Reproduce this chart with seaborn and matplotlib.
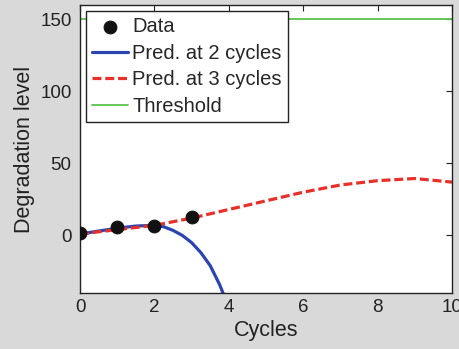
import matplotlib
matplotlib.use("Agg")
import matplotlib.pyplot as plt
import seaborn as sns
import pandas as pd
import numpy as np

sns.set_style("white")
plt.rcParams['font.family'] = ['Liberation Sans', 'DejaVu Sans']

data_x = [0, 1, 2, 3]
data_y = [1.5, 5.5, 6.5, 12.5]

pred2_x = [0, 0.5, 1, 1.5, 2, 2.25, 2.5, 2.75, 3, 3.25, 3.5, 3.75, 4]
pred2_y = [1, 3, 5, 6.5, 7, 6, 3.5, 0, -5, -12, -21, -34, -50]

pred3_x = [0, 1, 2, 3, 4, 5, 6, 7, 8, 9, 10]
pred3_y = [1, 4, 7, 12, 18, 24, 30, 35, 38, 39.5, 37]

thr_x = [0, 10]
thr_y = [150, 150]

fig = plt.figure(figsize=(4.59, 3.49), dpi=100, facecolor='#d9d9d9')
ax = fig.add_axes([80/459, 1-293/349, 372/459, 288/349])
ax.set_facecolor('white')

sns.scatterplot(x=data_x, y=data_y, ax=ax, color='#111111', s=85, edgecolor='#111111', zorder=5, label='Data')
sns.lineplot(x=pred2_x, y=pred2_y, ax=ax, color='#2b44b0', lw=2.3, label='Pred. at 2 cycles')
sns.lineplot(x=pred3_x, y=pred3_y, ax=ax, color='#e8302a', lw=2.3, label='Pred. at 3 cycles')
ax.lines[-1].set_dashes([2.8, 1.2])
sns.lineplot(x=thr_x, y=thr_y, ax=ax, color='#5cc24a', lw=1.3, label='Threshold')

ax.set_xlim(0, 10)
ax.set_ylim(-40, 160)
ax.set_xticks([0, 2, 4, 6, 8, 10])
ax.set_yticks([0, 50, 100, 150])
ax.tick_params(direction='in', length=4, top=True, right=True, labelsize=13.5, colors='#222222', width=0.8, pad=6)
ax.tick_params(axis='x', pad=4)
for s in ax.spines.values():
    s.set_color('#222222')
    s.set_linewidth(1.0)
ax.set_xlabel('Cycles', fontsize=15.5, color='#222222', labelpad=3)
ax.set_ylabel('Degradation level', fontsize=15.5, color='#222222', labelpad=4)

leg = ax.legend(loc='upper left', bbox_to_anchor=(6/372, 1-6/288), fontsize=14.5, frameon=True,
                fancybox=False, edgecolor='#222222', framealpha=1, borderpad=0.3,
                handlelength=1.8, handletextpad=0.2, labelspacing=0.38, borderaxespad=0)
leg.get_frame().set_linewidth(1.0)

fig.savefig('out.png', dpi=100, facecolor=fig.get_facecolor())
